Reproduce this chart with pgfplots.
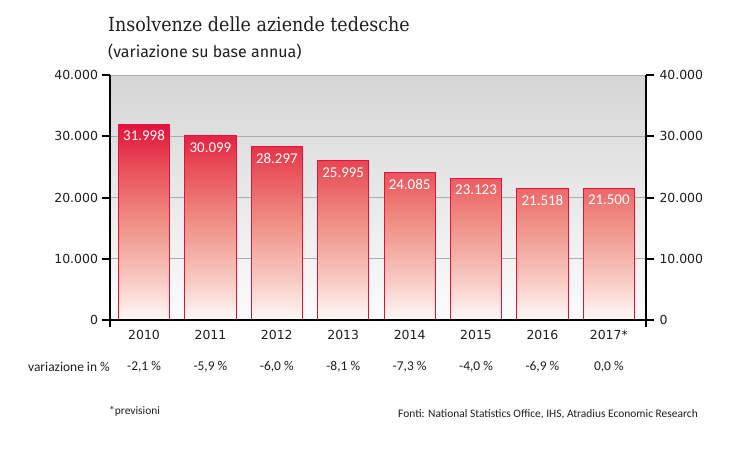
\documentclass[border=0pt]{standalone}
\usepackage{fontspec}
\setmainfont{DejaVu Sans}
\newfontfamily\titlefont{DejaVu Serif Condensed}
\newfontfamily\subfont{Fira Sans}
\newfontfamily\condfont{Carlito}
\usepackage{pgfplots}
\pgfplotsset{compat=1.18}
\definecolor{atred}{HTML}{E3123C}
\definecolor{atr2}{HTML}{E84A55}
\definecolor{atmid}{HTML}{EF8F84}
\definecolor{atr4}{HTML}{F8CBC3}
\definecolor{atbot}{HTML}{FFF9F7}
\definecolor{bgtop}{HTML}{D6D6D6}
\definecolor{bgbot}{HTML}{FCFCFC}
\definecolor{gridc}{HTML}{ABABAB}
\definecolor{txt}{HTML}{1E1E1E}
\pgfdeclareverticalshading{barshade}{100bp}{color(0bp)=(atbot); color(25bp)=(atbot); color(35bp)=(atr4); color(50bp)=(atmid); color(65bp)=(atr2); color(75bp)=(atred); color(100bp)=(atred)}
\begin{document}
\begin{tikzpicture}
\useasboundingbox (0bp,0bp) rectangle (730bp,-456bp);
\node[anchor=base west, text=txt, inner sep=0pt] at (108bp,-31.5bp) {\titlefont\fontsize{19.5}{22}\selectfont Insolvenze delle aziende tedesche};
\node[anchor=base west, text=txt, inner sep=0pt] at (108bp,-57bp) {\subfont\fontsize{16}{19}\selectfont (variazione su base annua)};
\begin{axis}[
  at={(109.5bp,-320bp)}, anchor=south west,
  scale only axis, width=536.5bp, height=245bp,
  xmin=-0.52, xmax=7.56, ymin=0, ymax=40000,
  axis background/.style={top color=bgtop, bottom color=bgbot},
  axis x line*=bottom, axis y line*=left,
  axis line style={line width=2bp, black},
  ybar, bar width=0.77, bar shift=0pt,
  ytick={0,10000,20000,30000,40000},
  scaled y ticks=false,
  /pgf/number format/.cd, 1000 sep={.}, assume math mode=true, /pgfplots/.cd,
  ymajorgrids, grid style={gridc, line width=0.9bp},
  tick align=outside, major tick length=8bp,
  ytick style={line width=2bp, black},
  xtick={0,...,7}, xtick style={draw=none},
  xticklabels={2010,2011,2012,2013,2014,2015,2016,2017*},
  xticklabel style={font=\fontsize{12.5}{14}\selectfont, text=txt, yshift=1bp},
  yticklabel style={font=\fontsize{12.5}{14}\selectfont, text=txt},
  nodes near coords,
  nodes near coords style={anchor=north, yshift=-3bp, text=white, font=\condfont\fontsize{15}{17}\selectfont},
  clip=false,
]
\addplot[draw=atred, line width=0.8bp, shading=barshade] coordinates {
 (0,31998) (1,30099) (2,28297) (3,25995) (4,24085) (5,23123) (6,21518) (7,21500)};
\draw[line width=2bp] (rel axis cs:0,0) -- (rel axis cs:1,0);
\draw[line width=2bp] (rel axis cs:0,0) -- ++(0pt,-7bp);
\draw[line width=2bp] (rel axis cs:1,0) -- ++(0pt,-7bp);
\begin{scope}[every node/.style={font=\condfont\fontsize{13.5}{15}\selectfont, text=txt, yshift=-47bp}]
\node at (axis cs:0,0) {-2,1 \%};
\node at (axis cs:1,0) {-5,9 \%};
\node at (axis cs:2,0) {-6,0 \%};
\node at (axis cs:3,0) {-8,1 \%};
\node at (axis cs:4,0) {-7,3 \%};
\node at (axis cs:5,0) {-4,0 \%};
\node at (axis cs:6,0) {-6,9 \%};
\node at (axis cs:7,0) {0,0 \%};
\end{scope}
\end{axis}
\begin{axis}[
  at={(109.5bp,-320bp)}, anchor=south west,
  scale only axis, width=536.5bp, height=245bp,
  xmin=-0.52, xmax=7.56, ymin=0, ymax=40000,
  axis x line=none, axis y line*=right,
  axis line style={line width=2bp, black},
  ytick={0,10000,20000,30000,40000},
  scaled y ticks=false,
  /pgf/number format/.cd, 1000 sep={.}, assume math mode=true, /pgfplots/.cd,
  tick align=outside, major tick length=8bp,
  ytick style={line width=2bp, black},
  yticklabel style={font=\fontsize{12.5}{14}\selectfont, text=txt, xshift=2bp},
]
\addplot[draw=none] coordinates {(0,0)};
\end{axis}
\node[anchor=east, text=txt, inner sep=0pt] at (110bp,-367bp) {\condfont\fontsize{13.5}{15}\selectfont variazione in \%};
\node[anchor=west, text=txt, inner sep=0pt] at (109bp,-411bp) {\condfont\fontsize{11.5}{13}\selectfont *previsioni};
\node[anchor=east, text=txt, inner sep=0pt] at (698bp,-414bp) {\condfont\fontsize{11.5}{13}\selectfont Fonti: National Statistics Office, IHS, Atradius Economic Research};
\end{tikzpicture}
\end{document}
